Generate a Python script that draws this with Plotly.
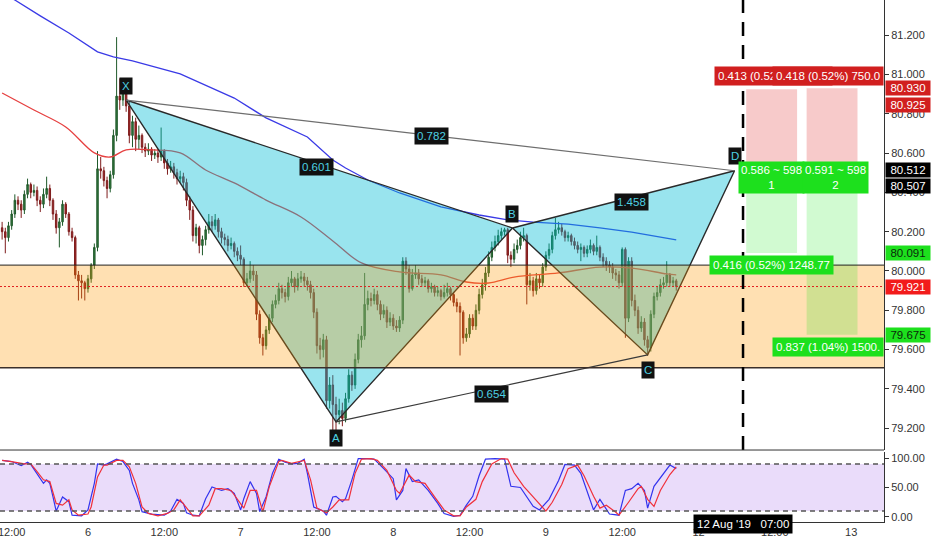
import plotly.graph_objects as go
import pandas as pd

# ---------------- data ----------------
first_open = 80.22
closes = [
    80.20, 80.17, 80.23, 80.29, 80.36, 80.34, 80.31, 80.39, 80.44, 80.40,
    80.41, 80.36, 80.34, 80.39, 80.42, 80.36, 80.29, 80.22, 80.25, 80.34,
    80.29, 80.20, 80.17, 79.98, 79.95, 79.94, 79.91, 79.96, 80.03, 80.12,
    80.52, 80.51, 80.46, 80.42, 80.49, 80.69, 80.89, 80.87, 80.91, 80.84,
    80.69, 80.76, 80.67, 80.69, 80.63, 80.61, 80.62, 80.59, 80.60, 80.58,
    80.61, 80.55, 80.52, 80.53, 80.50, 80.47, 80.48, 80.45, 80.36, 80.31,
    80.18, 80.22, 80.13, 80.16, 80.21, 80.25, 80.23, 80.26, 80.20, 80.17,
    80.16, 80.13, 80.14, 80.10, 80.08, 80.06, 79.94, 79.96, 80.00, 79.98,
    79.78, 79.66, 79.62, 79.70, 79.76, 79.83, 79.85, 79.91, 79.89, 79.87,
    79.94, 79.96, 79.92, 79.96, 79.97, 79.95, 79.93, 79.89, 79.79, 79.62,
    79.60, 79.65, 79.34, 79.42, 79.32, 79.27, 79.29, 79.25, 79.35, 79.47,
    79.42, 79.55, 79.65, 79.67, 79.83, 79.86, 79.85, 79.88, 79.83, 79.78,
    79.80, 79.74, 79.76, 79.72, 79.71, 79.75, 80.05, 80.01, 79.91, 79.98,
    79.99, 79.96, 79.94, 79.95, 79.91, 79.92, 79.89, 79.90, 79.87, 79.89,
    79.91, 79.88, 79.84, 79.82, 79.79, 79.66, 79.68, 79.76, 79.72, 79.80,
    79.88, 79.93, 79.99, 80.07, 80.12, 80.15, 80.18, 80.20, 80.21, 80.08,
    80.06, 80.11, 80.13, 80.17, 80.18, 79.93, 79.95, 79.90, 79.96, 79.94,
    80.02, 80.08, 80.11, 80.18, 80.21, 80.22, 80.20, 80.17, 80.18, 80.15,
    80.13, 80.11, 80.12, 80.09, 80.11, 80.13, 80.10, 80.12, 80.07, 80.05,
    80.03, 80.02, 79.99, 79.98, 79.94, 80.11, 79.76, 80.05, 79.85, 79.80,
    79.71, 79.74, 79.65, 79.61, 79.78, 79.87, 79.89, 79.93, 79.94, 79.98,
    79.94, 79.95, 79.921,
]
highs = [
    80.25, 80.22, 80.25, 80.31, 80.39, 80.38, 80.36, 80.41, 80.47, 80.45,
    80.44, 80.43, 80.38, 80.42, 80.48, 80.44, 80.37, 80.31, 80.27, 80.36,
    80.35, 80.30, 80.22, 80.18, 80.00, 79.98, 79.95, 79.98, 80.04, 80.14,
    80.61, 80.58, 80.53, 80.48, 80.51, 80.72, 81.19, 80.98, 80.94, 80.93,
    80.87, 80.79, 80.78, 80.74, 80.70, 80.65, 80.65, 80.63, 80.62, 80.62,
    80.73, 80.62, 80.57, 80.56, 80.55, 80.52, 80.51, 80.50, 80.47, 80.38,
    80.33, 80.24, 80.23, 80.18, 80.23, 80.29, 80.28, 80.29, 80.27, 80.22,
    80.19, 80.18, 80.17, 80.15, 80.12, 80.13, 80.07, 79.99, 80.05, 80.03,
    80.00, 79.80, 79.68, 79.72, 79.78, 79.85, 79.88, 79.94, 79.93, 79.91,
    79.97, 80.00, 79.97, 79.99, 80.00, 79.99, 79.97, 79.95, 79.91, 79.81,
    79.66, 79.68, 79.67, 79.46, 79.47, 79.36, 79.35, 79.33, 79.38, 79.50,
    79.49, 79.58, 79.68, 79.72, 79.99, 79.90, 79.89, 79.91, 79.90, 79.85,
    79.83, 79.82, 79.79, 79.78, 79.75, 79.77, 80.07, 80.07, 80.03, 80.01,
    80.03, 80.01, 79.98, 79.97, 79.96, 79.94, 79.93, 79.92, 79.91, 79.93,
    79.94, 79.92, 79.89, 79.86, 79.84, 79.80, 79.71, 79.78, 79.78, 79.83,
    79.91, 79.96, 80.02, 80.10, 80.15, 80.18, 80.21, 80.22, 80.22, 80.22,
    80.10, 80.14, 80.16, 80.20, 80.22, 80.19, 79.99, 79.97, 79.99, 79.98,
    80.04, 80.10, 80.14, 80.20, 80.27, 80.25, 80.24, 80.21, 80.20, 80.19,
    80.17, 80.15, 80.14, 80.13, 80.13, 80.16, 80.14, 80.18, 80.13, 80.09,
    80.07, 80.05, 80.04, 80.01, 80.00, 80.12, 80.12, 80.07, 80.07, 79.88,
    79.82, 79.77, 79.76, 79.67, 79.80, 79.89, 79.92, 79.96, 79.97, 80.05,
    79.99, 79.97, 79.96,
]
lows = [
    80.16, 80.09, 80.15, 80.21, 80.27, 80.31, 80.27, 80.29, 80.37, 80.37,
    80.38, 80.33, 80.30, 80.32, 80.37, 80.33, 80.26, 80.19, 80.12, 80.23,
    80.27, 80.18, 80.15, 79.96, 79.85, 79.86, 79.85, 79.89, 79.94, 80.01,
    80.10, 80.47, 80.43, 80.37, 80.40, 80.47, 80.66, 80.82, 80.84, 80.81,
    80.65, 80.63, 80.61, 80.62, 80.60, 80.58, 80.59, 80.56, 80.57, 80.55,
    80.56, 80.52, 80.49, 80.50, 80.47, 80.44, 80.45, 80.41, 80.33, 80.26,
    80.15, 80.14, 80.09, 80.08, 80.13, 80.19, 80.20, 80.21, 80.17, 80.14,
    80.13, 80.10, 80.11, 80.07, 80.05, 80.03, 79.92, 79.92, 79.94, 79.95,
    79.75, 79.63, 79.57, 79.60, 79.68, 79.74, 79.81, 79.83, 79.86, 79.84,
    79.85, 79.92, 79.89, 79.90, 79.94, 79.92, 79.90, 79.86, 79.76, 79.58,
    79.55, 79.56, 79.30, 79.30, 79.17, 79.19, 79.22, 79.21, 79.23, 79.33,
    79.39, 79.40, 79.53, 79.61, 79.65, 79.80, 79.82, 79.83, 79.80, 79.75,
    79.76, 79.71, 79.72, 79.70, 79.69, 79.69, 79.73, 79.98, 79.89, 79.90,
    79.96, 79.93, 79.92, 79.92, 79.89, 79.89, 79.87, 79.87, 79.85, 79.86,
    79.87, 79.85, 79.82, 79.79, 79.57, 79.63, 79.64, 79.66, 79.70, 79.70,
    79.78, 79.86, 79.90, 79.97, 80.05, 80.10, 80.13, 80.16, 80.18, 80.04,
    80.02, 80.04, 80.09, 80.11, 80.15, 79.83, 79.90, 79.87, 79.88, 79.91,
    79.92, 80.00, 80.06, 80.09, 80.16, 80.19, 80.18, 80.15, 80.15, 80.13,
    80.11, 80.09, 80.05, 80.07, 80.07, 80.09, 80.08, 80.08, 80.05, 80.02,
    80.00, 79.99, 79.96, 79.95, 79.91, 79.92, 79.66, 79.74, 79.82, 79.77,
    79.68, 79.69, 79.62, 79.57, 79.59, 79.76, 79.85, 79.87, 79.91, 79.92,
    79.92, 79.92, 79.90,
]

# moving averages (sampled at candle indices)
ma_blue_idx = [0, 4, 12, 21, 30, 35, 41, 56, 73, 83, 96, 104, 108, 115, 125, 138, 150, 159, 167, 178, 188, 198, 212]
ma_blue = [81.415, 81.379, 81.298, 81.211, 81.115, 81.089, 81.069, 81.003, 80.880, 80.779, 80.682, 80.565,
           80.524, 80.463, 80.397, 80.326, 80.285, 80.260, 80.249, 80.239, 80.219, 80.198, 80.158]
ma_red_idx = [0, 10, 20, 29, 34, 39, 47, 56, 64, 73, 83, 94, 104, 113, 125, 138, 146, 153, 161, 175, 188, 198, 209, 212]
ma_red = [80.906, 80.819, 80.733, 80.601, 80.580, 80.616, 80.616, 80.601, 80.514, 80.448, 80.361, 80.275,
          80.153, 80.041, 79.995, 79.980, 79.944, 79.939, 79.969, 79.990, 80.020, 80.015, 79.985, 79.980]

# stochastic (sampled at candle indices)
k_idx = [0, 3, 6, 8, 9, 11, 13, 14, 15, 16, 17, 19, 21, 22, 25, 27, 29, 30, 32, 33, 36, 38, 40, 41, 43, 44, 47, 51,
         53, 55, 57, 58, 60, 62, 64, 66, 69, 71, 73, 75, 76, 78, 80, 81, 83, 85, 87, 89, 91, 93, 95, 96, 98, 101,
         102, 104, 105, 107, 108, 110, 112, 115, 117, 120, 123, 124, 126, 127, 129, 131, 134, 137, 139, 142, 144,
         146, 148, 150, 152, 155, 158, 160, 163, 167, 169, 172, 175, 177, 180, 182, 185, 186, 188, 191, 194, 196,
         198, 200, 202, 203, 205, 208, 210, 212]
k_val = [96, 94, 87, 93, 89, 74, 57, 63, 57, 34, 10, 34, 26, 3, 2, 12, 57, 90, 88, 90, 98, 94, 79, 57, 29, 9, 5, 3,
         10, 30, 23, 7, 3, 2, 31, 51, 45, 48, 40, 12, 31, 60, 40, 9, 34, 74, 98, 93, 90, 91, 98, 74, 17, 10,
         3, 34, 35, 26, 31, 63, 99, 99, 98, 82, 65, 29, 45, 82, 60, 63, 45, 23, 6, 1, 3,
         20, 35, 70, 98, 99, 98, 52, 50, 18, 12, 30, 62, 89, 88, 74, 25, 12, 30, 5, 3, 45,
         48, 57, 45, 15, 52, 73, 88, 82]
d_idx = [0, 3, 7, 9, 11, 13, 15, 17, 19, 21, 22, 24, 27, 28, 30, 32, 33, 36, 38, 40, 42, 44, 46, 49, 52, 54, 56, 58,
         60, 62, 65, 67, 69, 72, 74, 76, 78, 80, 82, 84, 87, 88, 91, 94, 95, 97, 99, 102, 104, 106, 109, 111, 113,
         116, 118, 121, 124, 125, 128, 130, 133, 136, 139, 142, 144, 146, 149, 151, 154, 157, 159, 161, 164, 166,
         169, 171, 173, 176, 178, 181, 183, 186, 188, 190, 193, 194, 197, 200, 201, 203, 205, 207, 210, 212]
d_val = [96, 94, 90, 90, 77, 63, 60, 23, 20, 29, 12, 3, 5, 17, 68, 88, 88, 96, 96, 85, 57, 17, 6, 2, 6, 12, 29, 15,
         2, 2, 20, 48, 48, 45, 29, 15, 45, 45, 9, 51, 94, 96, 91, 94, 96, 63, 15, 7, 17, 29, 29, 74, 98,
         99, 96, 79, 45, 40, 71, 60, 57, 34, 12, 2, 2, 17, 30, 60, 90, 99, 98, 75, 52, 40,
         22, 10, 25, 55, 82, 88, 70, 35, 15, 20, 8, 3, 25, 48, 52, 30, 18, 45, 72, 85]

# harmonic pattern points
pat_names = ["X", "A", "B", "C", "D"]
pat_time = ["2019-08-06 06:00", "2019-08-07 15:00", "2019-08-08 18:45", "2019-08-09 16:00", "2019-08-12 05:40"]
pat_price = [80.870, 79.232, 80.219, 79.573, 80.510]
ratio_text = ["0.601", "0.782", "1.458", "0.654"]
ratio_time = ["2019-08-07 12:00", "2019-08-08 06:00", "2019-08-09 13:30", "2019-08-08 15:30"]
ratio_price = [80.529, 80.687, 80.351, 79.374]

zone_top, zone_bottom = 80.03, 79.507
last_price = 79.921
event_time = "2019-08-12 07:00"

# trade boxes: (start, end, stop, entry, target)
box_start = ["2019-08-12 07:30", "2019-08-12 17:00"]
box_end = ["2019-08-12 15:30", "2019-08-13 01:00"]
box_stop = [80.925, 80.930]
box_entry = [80.512, 80.507]
box_target = [80.091, 79.675]

x_ticks = ["2019-08-05 12:00", "2019-08-06", "2019-08-06 12:00", "2019-08-07", "2019-08-07 12:00", "2019-08-08",
           "2019-08-08 12:00", "2019-08-09", "2019-08-09 12:00", "2019-08-12", "2019-08-12 12:00", "2019-08-13"]
x_labels = ["12:00", "6", "12:00", "7", "12:00", "8", "12:00", "9", "12:00", "12", "12:00", "13"]
y_ticks = [79.2, 79.4, 79.6, 79.8, 80.0, 80.2, 80.4, 80.6, 80.8, 81.0, 81.2]

# ---------------- figure ----------------
times = pd.date_range("2019-08-05 10:30", periods=len(closes), freq="30min")
opens = [first_open] + closes[:-1]
FONT = "Liberation Sans, Arial, sans-serif"

fig = go.Figure()
fig.add_trace(go.Candlestick(
    x=times, open=opens, high=highs, low=lows, close=closes,
    increasing=dict(line=dict(color="#1f5a2a", width=1), fillcolor="#35783f"),
    decreasing=dict(line=dict(color="#7e1c1c", width=1), fillcolor="#a32a2a"),
    whiskerwidth=0, hoverinfo="skip", showlegend=False, xaxis="x", yaxis="y"))

fig.add_trace(go.Scatter(x=[times[i] for i in ma_blue_idx], y=ma_blue, mode="lines",
                         line=dict(color="#3a3ae6", width=1.3), showlegend=False, hoverinfo="skip"))
fig.add_trace(go.Scatter(x=[times[i] for i in ma_red_idx], y=ma_red, mode="lines", line_shape="spline",
                         line=dict(color="#e64040", width=1.3), showlegend=False, hoverinfo="skip"))

fig.add_trace(go.Scatter(x=[times[i] for i in k_idx], y=k_val, mode="lines", yaxis="y2",
                         line=dict(color="#3333ee", width=1.2), showlegend=False, hoverinfo="skip"))
fig.add_trace(go.Scatter(x=[times[i] for i in d_idx], y=d_val, mode="lines", yaxis="y2",
                         line=dict(color="#f0303a", width=1.2), showlegend=False, hoverinfo="skip"))

shapes = []
# stochastic band
shapes.append(dict(type="rect", xref="paper", x0=0, x1=1, yref="y2", y0=10, y1=90,
                   fillcolor="rgba(150,80,230,0.2)", line=dict(width=0), layer="below"))
for lvl in (90, 10):
    shapes.append(dict(type="line", xref="paper", x0=0, x1=1, yref="y2", y0=lvl, y1=lvl,
                       line=dict(color="#555", width=1.5, dash="5px,4px")))
# orange zone
shapes.append(dict(type="rect", xref="paper", x0=0, x1=1, yref="y", y0=zone_bottom, y1=zone_top,
                   fillcolor="rgba(255,152,0,0.3)", line=dict(width=0), layer="above"))
# trade boxes
for s, e, st, en, tg in zip(box_start, box_end, box_stop, box_entry, box_target):
    shapes.append(dict(type="rect", x0=s, x1=e, y0=en, y1=st, xref="x", yref="y",
                       fillcolor="rgba(230,80,80,0.3)", line=dict(width=0), layer="above"))
    shapes.append(dict(type="rect", x0=s, x1=e, y0=tg, y1=en, xref="x", yref="y",
                       fillcolor="rgba(0,230,0,0.18)", line=dict(width=0), layer="above"))

for (a, b, c) in [(0, 1, 2), (2, 3, 4)]:
    xs = [pat_time[a], pat_time[b], pat_time[c], pat_time[a]]
    ys = [pat_price[a], pat_price[b], pat_price[c], pat_price[a]]
    fig.add_trace(go.Scatter(x=xs, y=ys, mode="lines", fill="toself", fillcolor="rgba(0,188,212,0.4)",
                             line=dict(color="#2a2a2a", width=1.4), showlegend=False, hoverinfo="skip"))

# connector lines X-D and A-C
for (a, b, col) in [(0, 4, "#6e6e6e"), (1, 3, "#3a3a3a")]:
    shapes.append(dict(type="line", xref="x", yref="y", x0=pat_time[a], y0=pat_price[a],
                       x1=pat_time[b], y1=pat_price[b], line=dict(color=col, width=1.2), layer="above"))
# zone borders and last price line
shapes.append(dict(type="line", xref="paper", x0=0, x1=1, yref="y", y0=zone_top, y1=zone_top,
                   line=dict(color="#222", width=1), layer="above"))
shapes.append(dict(type="line", xref="paper", x0=0, x1=1, yref="y", y0=zone_bottom, y1=zone_bottom,
                   line=dict(color="#3b2f2a", width=1.5), layer="above"))
shapes.append(dict(type="line", xref="paper", x0=0, x1=1, yref="y", y0=last_price, y1=last_price,
                   line=dict(color="#e02020", width=1, dash="2px,2px"), layer="above"))
# event vertical dashed line
shapes.append(dict(type="line", xref="x", x0=event_time, x1=event_time, yref="y domain", y0=0, y1=1,
                   line=dict(color="#000", width=2.5, dash="14px,9px"), layer="above"))
# pane separator
shapes.append(dict(type="line", xref="paper", x0=0, x1=1, yref="paper", y0=0.1379, y1=0.1379,
                   line=dict(color="#333", width=1)))

ann = []
LBL_FONT = dict(family=FONT, size=11.5, color="#4dd0e1")
offs = {"X": 14, "A": -16, "B": 14, "C": -15, "D": 15}
for n, t, p in zip(pat_names, pat_time, pat_price):
    ann.append(dict(x=t, y=p, xref="x", yref="y", text=n, showarrow=False, yshift=offs[n],
                    bgcolor="#111", font=LBL_FONT, borderpad=2))
for txt, t, p in zip(ratio_text, ratio_time, ratio_price):
    ann.append(dict(x=t, y=p, xref="x", yref="y", text=txt, showarrow=False,
                    bgcolor="#111", font=LBL_FONT, borderpad=2))

RED = "#d11f1f"
GREEN = "#1de01d"
WF = dict(family=FONT, size=11.5, color="white")
ann.append(dict(x="2019-08-12 02:30", y=80.992, xref="x", yref="y", xanchor="left", text="0.413 (0.52%) 750.00",
                showarrow=False, bgcolor=RED, font=WF, borderpad=3))
ann.append(dict(x=1, y=80.992, xref="paper", yref="y", xanchor="right", text="0.418 (0.52%) 750.0",
                showarrow=False, bgcolor=RED, font=WF, borderpad=3))
ann.append(dict(x="2019-08-12 11:30", y=80.476, xref="x", yref="y", text="0.586 ~ 598<br>1",
                showarrow=False, bgcolor=GREEN, font=WF, borderpad=2))
ann.append(dict(x="2019-08-12 21:30", y=80.476, xref="x", yref="y", text="0.591 ~ 598<br>2",
                showarrow=False, bgcolor=GREEN, font=WF, borderpad=2))
ann.append(dict(x="2019-08-12 11:30", y=80.031, xref="x", yref="y", text="0.416 (0.52%) 1248.77",
                showarrow=False, bgcolor=GREEN, font=WF, borderpad=3))
ann.append(dict(x=1, y=79.613, xref="paper", yref="y", xanchor="right", text="0.837 (1.04%) 1500.",
                showarrow=False, bgcolor=GREEN, font=WF, borderpad=3))

# right-axis price labels
axis_labels = [(80.930, 0, RED, "white"), (80.925, -16, RED, "white"), (80.512, 0, "#000", "white"),
               (80.507, -15, "#000", "white"), (80.091, 0, GREEN, "#0b2a0b"), (last_price, 0, "#f21b1b", "white"),
               (79.675, 0, GREEN, "#0b2a0b")]
for v, ys, bg, fc in axis_labels:
    ann.append(dict(x=1, y=v, xref="paper", yref="y", xanchor="left", xshift=1, yshift=ys,
                    text=f"{v:.3f}", showarrow=False, bgcolor=bg, width=42,
                    font=dict(family=FONT, size=11.5, color=fc), borderpad=1))

# crosshair time label
ann.append(dict(x=event_time, y=-0.023, xref="x", yref="paper", text="12 Aug '19\u00a0\u00a0\u00a007:00",
                showarrow=False, bgcolor="#000", font=dict(family=FONT, size=11.5, color="white"), borderpad=3))

fig.update_layout(
    width=932, height=550, margin=dict(l=0, r=48, t=0, b=28, autoexpand=False),
    paper_bgcolor="white", plot_bgcolor="white",
    shapes=shapes, annotations=ann, showlegend=False, boxgap=0.35,
    font=dict(family=FONT, size=11, color="#333"),
    xaxis=dict(type="date", range=["2019-08-05 10:10", "2019-08-13 05:10"],
               rangebreaks=[dict(bounds=["sat", "mon"])], rangeslider=dict(visible=False),
               tickvals=x_ticks, ticktext=x_labels, showgrid=False, zeroline=False,
               showline=True, linecolor="#333", linewidth=1, anchor="y2", ticklabeloverflow="allow",
               tickfont=dict(family=FONT, size=11, color="#333")),
    yaxis=dict(domain=[0.1379, 1], side="right", range=[79.089, 81.379], tickvals=y_ticks,
               tickformat=".3f", showgrid=False, zeroline=False, showline=True, linecolor="#333",
               ticks="outside", ticklen=4, tickcolor="#333", anchor="x",
               tickfont=dict(family=FONT, size=11, color="#333")),
    yaxis2=dict(domain=[0, 0.1341], side="right", range=[-8.5, 110.2], tickvals=[0, 50, 100],
                ticktext=["0.00", "50.00", "100.00"], showgrid=False, zeroline=False, showline=True,
                linecolor="#333", ticks="outside", ticklen=4, tickcolor="#333", anchor="x",
                tickfont=dict(family=FONT, size=11, color="#333")),
)

fig.write_html("out.html", config={"displayModeBar": False},
               post_script="document.body.style.margin='0px';document.body.style.padding='0px';")
